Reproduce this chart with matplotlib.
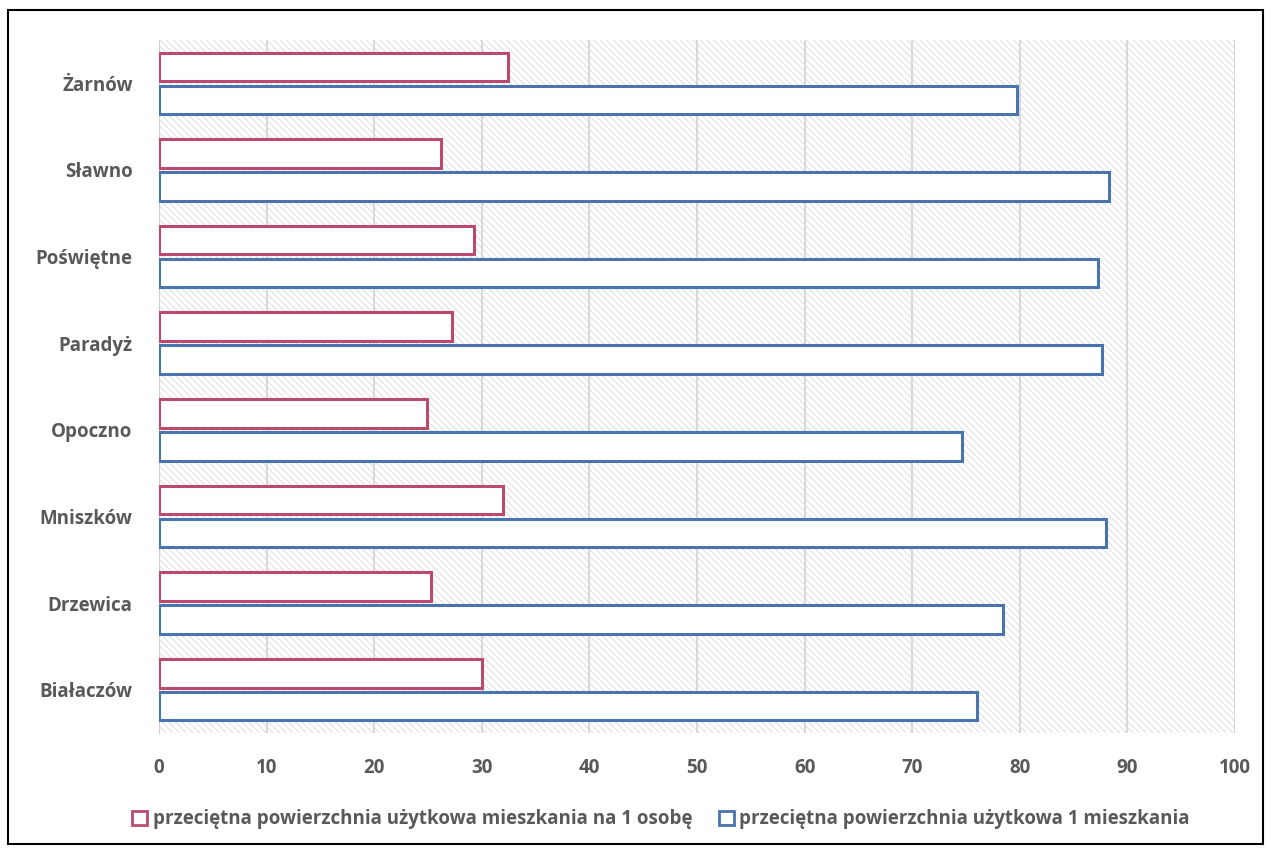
import matplotlib
matplotlib.use("Agg")
import matplotlib.pyplot as plt
from matplotlib.patches import Patch, Rectangle
import numpy as np

# dane
gminy = ['Białaczów', 'Drzewica', 'Mniszków', 'Opoczno', 'Paradyż', 'Poświętne', 'Sławno', 'Żarnów']
na_osobe = [30.0, 25.3, 32.0, 24.9, 27.2, 29.3, 26.2, 32.4]
na_mieszkanie = [76.0, 78.4, 88.0, 74.6, 87.6, 87.3, 88.3, 79.7]
etykiety = ['przeciętna powierzchnia użytkowa mieszkania na 1 osobę',
            'przeciętna powierzchnia użytkowa 1 mieszkania']

kolor_os = '#BA4A70'
kolor_m = '#4A74AC'
szary = '#595959'

plt.rcParams['font.family'] = ['Open Sans', 'DejaVu Sans']
plt.rcParams['hatch.linewidth'] = 0.7

fig = plt.figure(figsize=(12.71, 8.5), dpi=100)
ax = fig.add_axes([0.1251, 0.1376, 0.8466, 0.8153])

# tło z kreskowaniem
ax.add_patch(Rectangle((0, 0), 1, 1, transform=ax.transAxes, facecolor='white',
                       edgecolor='#DDDDDD', hatch='\\\\\\\\\\', linewidth=0, zorder=0))

y = np.arange(len(gminy))
h = 0.33
ax.barh(y + 0.19, na_osobe, height=h, color='white', edgecolor=kolor_os, linewidth=2.2, zorder=3)
ax.barh(y - 0.19, na_mieszkanie, height=h, color='white', edgecolor=kolor_m, linewidth=2.2, zorder=3)

ax.set_xlim(0, 100)
ax.set_ylim(-0.5, 7.5)
ax.set_xticks(range(0, 101, 10))
ax.set_yticks(y)
ax.set_yticklabels(gminy)
ax.grid(axis='x', color='#D9D9D9', linewidth=1.5, zorder=1)
ax.set_axisbelow(True)
for s in ['top', 'right', 'bottom']:
    ax.spines[s].set_visible(False)
ax.spines['left'].set_color('#D0D0D0')
ax.tick_params(length=0, labelsize=13.5, labelcolor=szary, pad=18)
ax.tick_params(axis='y', pad=19)
for t in ax.get_xticklabels() + ax.get_yticklabels():
    t.set_fontweight('bold')

uchwyty = [Patch(facecolor='white', edgecolor=kolor_os, linewidth=2),
           Patch(facecolor='white', edgecolor=kolor_m, linewidth=2)]
leg = fig.legend(uchwyty, etykiety, loc='center', bbox_to_anchor=(0.52, 0.036), ncol=2,
                 frameon=False, handlelength=0.8, handleheight=0.8, handletextpad=0.3,
                 columnspacing=1.4, prop={'weight': 'bold', 'size': 13.5})
for t in leg.get_texts():
    t.set_color(szary)

# ramka wokół całego wykresu
fig.patches.append(Rectangle((8 / 1271, 1 - 844 / 850), 1255 / 1271, 834 / 850,
                             transform=fig.transFigure, fill=False, edgecolor='black', linewidth=1.5))

fig.savefig('out.png', dpi=100)
